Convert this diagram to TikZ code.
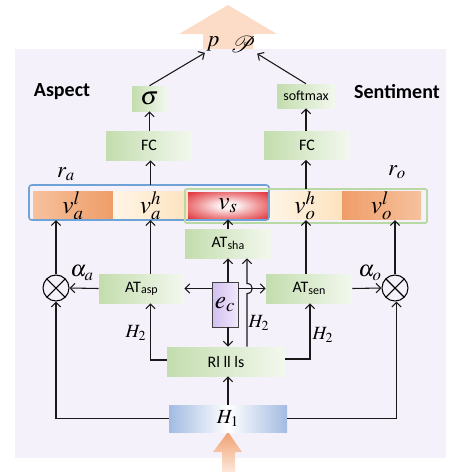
\documentclass[tikz,border=0pt]{standalone}
\usepackage{mathptmx}
\usepackage{mathrsfs}
\usepackage{fontspec}
\setsansfont{Carlito}
\usetikzlibrary{arrows.meta,calc}
\definecolor{bgc}{HTML}{F4F1FA}
\definecolor{gL}{HTML}{C3DDAE}
\definecolor{gR}{HTML}{F3F8EE}
\definecolor{orD}{HTML}{EF9D68}
\definecolor{orL}{HTML}{F6C19D}
\definecolor{crL}{HTML}{FEF5E6}
\definecolor{crD}{HTML}{FDE3BF}
\definecolor{redD}{HTML}{E03A3F}
\definecolor{redM}{HTML}{EE8F92}
\definecolor{redL}{HTML}{FDF0F0}
\definecolor{bluO}{HTML}{6FA3D8}
\definecolor{grnO}{HTML}{B8D9A3}
\definecolor{puL}{HTML}{F0E8FB}
\definecolor{puD}{HTML}{D2BFF0}
\definecolor{hB}{HTML}{A3BBE2}
\definecolor{peach}{HTML}{FCDCC6}
\definecolor{peachD}{HTML}{F0A070}
\definecolor{peachL}{HTML}{FDE8DA}
\pgfdeclareradialshading{vsshade}{\pgfpoint{0bp}{0bp}}{color(0bp)=(redL); color(6bp)=(redL); color(20bp)=(redM); color(34bp)=(redD); color(60bp)=(redD)}
\tikzset{
  sz/.style 2 args={minimum width=#1*0.75pt,minimum height=#2*0.75pt},
  gbox/.style={rectangle,inner sep=0pt,left color=gL,right color=gR,font=\sffamily\fontsize{12}{14}\selectfont},
  seg/.style={rectangle,inner sep=0pt,font=\fontsize{19}{21}\selectfont},
  conn/.style={line width=0.8pt,draw=black!90},
  arr/.style={conn,-{Straight Barb[length=3.5pt,width=7pt]}},
  lbl/.style={inner sep=1pt,font=\fontsize{17}{19}\selectfont},
  hlbl/.style={inner sep=1pt,font=\fontsize{14}{16}\selectfont},
  side/.style={font=\sffamily\bfseries\fontsize{15}{17}\selectfont},
  otimes/.style={circle,draw,line width=0.8pt,sz={26}{26},inner sep=0pt,
    path picture={\draw[line width=0.8pt] (path picture bounding box.north west)--(path picture bounding box.south east)
      (path picture bounding box.north east)--(path picture bounding box.south west);}},
}
\newcommand{\ATs}[1]{AT{\fontsize{9}{10}\selectfont\raisebox{-1pt}{#1}}}
\begin{document}
\begin{tikzpicture}[x=0.75pt,y=-0.75pt]
\useasboundingbox (0,0) rectangle (467,472);
% background
\fill[bgc] (15,49) rectangle (446,458);
% top output arrow
\fill[peach] (228,5) -- (277,34) -- (253,34) -- (253,49) -- (203,49) -- (203,34) -- (179,34) -- cycle;
% bottom input arrow
\shade[top color=peachD,bottom color=peachL] (228,432) -- (242,452) -- (235,452) -- (235,472) -- (222,472) -- (222,452) -- (213,452) -- cycle;

% outputs
\node[lbl] (p) at (213,44) {$p$};
\node[lbl] (P) at (243,44) {$\mathscr{P}$};

% side labels
\node[side] (asp) at (62,92) {Aspect};
\node[side] (sen) at (397,92) {Sentiment};

% sigma / softmax
\node[gbox,sz={35}{25},font=\fontsize{19}{21}\selectfont] (sig) at (149.5,98.5) {$\sigma$};
\node[gbox,sz={58}{24},font=\sffamily\fontsize{10.5}{12}\selectfont] (smax) at (306,96) {softmax};

% FC
\node[gbox,sz={86}{29}] (fcL) at (149,145.5) {FC};
\node[gbox,sz={86}{28}] (fcR) at (307,145.5) {FC};

% representation row
\node[seg,sz={80}{27},left color=orL,right color=orD] (val) at (73,205.5) {$v_a^l$};
\node[seg,sz={75}{27},left color=crL,right color=crD] (vah) at (150.5,205.5) {$v_a^h$};
\node[seg,sz={80}{27},shading=vsshade] (vs) at (228,205.5) {$v_s$};
\node[seg,sz={74}{27},left color=crL,right color=crD] (voh) at (305,205.5) {$v_o^h$};
\node[seg,sz={79}{27},left color=orD,right color=orL] (vol) at (381.5,205.5) {$v_o^l$};
\draw[bluO,line width=1.2pt,rounded corners=2pt] (29,185) rectangle (269,220);
\draw[grnO,line width=1.2pt,rounded corners=1pt] (185,189) rectangle (427,223);
\node[lbl] (ra) at (66,174) {$r_a$};
\node[lbl] (ro) at (397,172) {$r_o$};

% attention
\node[gbox,sz={86}{29}] (atsha) at (228,243.5) {\ATs{sha}};
\node[gbox,sz={85}{29}] (atasp) at (141.5,288.5) {\ATs{asp}};
\node[gbox,sz={86}{29}] (atsen) at (309,288.5) {\ATs{sen}};
\node[otimes] (oxL) at (56,288) {};
\node[otimes] (oxR) at (395,288) {};
\node[lbl] (aa) at (82,273) {$\alpha_a$};
\node[lbl] (ao) at (370,273) {$\alpha_o$};

% e_c
\node[rectangle,draw=black!75,line width=0.6pt,sz={26}{45},inner sep=0pt,left color=puD,right color=puL,font=\fontsize{19}{21}\selectfont] (ec) at (225,304.5) {$e_c$};

% RNNs and H1
\node[gbox,sz={118}{29}] (rnn) at (226,361.5) {Rl ll ls};
\node[rectangle,inner sep=0pt,sz={118}{27},left color=hB,right color=hB,middle color=white,font=\fontsize{15}{17}\selectfont] (h1) at (228,418.5) {$H_1$};
\node[hlbl] (h2a) at (136,333) {$H_2$};
\node[hlbl] (h2b) at (259,323) {$H_2$};
\node[hlbl] (h2c) at (323,335) {$H_2$};
\coordinate (hx) at (247,0);
\coordinate (rowtop) at (0,185);
\coordinate (rowtopR) at (0,189);

% connectors: top
\draw[arr] (sig.north) -- (p.south west);
\draw[arr] (smax.north) -- (P.south east);
\draw[arr] (fcL.north -| sig) -- (sig.south);
\draw[arr] (fcR.north -| smax) -- (smax.south);
\draw[arr] (rowtop -| vah) -- (fcL.south -| vah);
\draw[arr] (rowtopR -| smax) -- (fcR.south -| smax);
% into row
\draw[arr] (oxL.north) -- (oxL.north |- val.south);
\draw[arr] (atasp.north -| vah) -- (vah.south);
\draw[arr] (atsha.north) -- (vs.south);
\draw[arr] (atsen.north -| smax) -- (voh.south -| smax);
\draw[arr] (oxR.north) -- (oxR.north |- vol.south);
% attention weights
\draw[arr] (atasp.west) -- (oxL.east);
\draw[arr] (atsen.east) -- (oxR.west);
% e_c
\draw[arr] (ec.west |- atasp) -- (atasp.east);
\draw[arr] (ec.east |- atsen) -- (atsen.west);
\draw[arr] (ec.north -| atsha) -- (atsha.south);
\draw[arr] (ec.south -| atsha) -- (rnn.north -| atsha);
% H2 vertical with hop
\draw[arr] (rnn.north -| hx) -- ($(atsen.west -| hx)+(0,5)$) .. controls ($(atsen.west -| hx)+(7,5)$) and ($(atsen.west -| hx)+(7,-5)$) .. ($(atsen.west -| hx)+(0,-5)$) -- (atsha.south -| hx);
% RNN to AT
\draw[arr] ($(rnn.west)+(0,-1.5)$) -- ($(rnn.west -| vah)+(0,-1.5)$) -- (atasp.south -| vah);
\draw[arr] ($(rnn.east)+(0,-2.5)$) -- ($(rnn.east -| atsen)+(1,-2.5)$) -- ($(atsen.south)+(1,0)$);
% H1
\draw[arr] (h1.north) -- (h1.north |- rnn.south);
\draw[arr] (h1.west) -- (h1.west -| oxL) -- (oxL.south);
\draw[arr] (h1.east) -- ($(h1.east -| oxR)+(1.5,0)$) -- ($(oxR.south)+(1.5,0)$);
\end{tikzpicture}
\end{document}
